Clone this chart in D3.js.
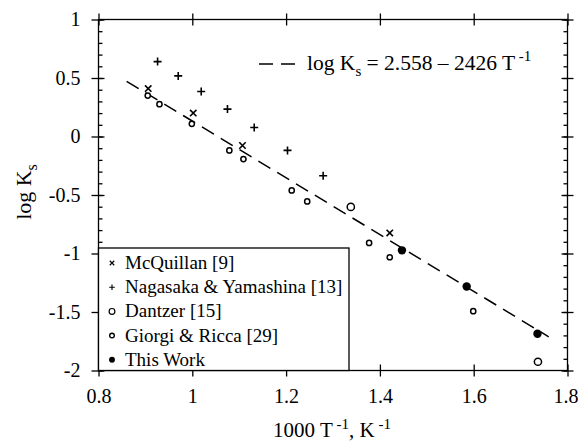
<!DOCTYPE html>
<html>
<head>
<meta charset="utf-8">
<script src="https://cdn.jsdelivr.net/npm/d3@7/dist/d3.min.js"></script>
<style>
  html, body { margin: 0; padding: 0; background: #fff; }
  svg { display: block; }
</style>
</head>
<body>
<svg id="chart" width="578" height="444"></svg>
<script>
// Hydrogen solubility constants, log Ks against 1000/T
const mcquillanX = [0.906, 1.002, 1.107, 1.421];
const mcquillanY = [0.41, 0.20, -0.077, -0.824];
const nagasakaX = [0.926, 0.970, 1.019, 1.075, 1.132, 1.203, 1.279];
const nagasakaY = [0.64, 0.518, 0.384, 0.234, 0.077, -0.119, -0.335];
const dantzerX = [1.338, 1.737];
const dantzerY = [-0.602, -1.925];
const giorgiX = [0.905, 0.930, 0.999, 1.079, 1.109, 1.212, 1.245, 1.377, 1.421, 1.599];
const giorgiY = [0.35, 0.276, 0.108, -0.119, -0.193, -0.461, -0.555, -0.91, -1.032, -1.493];
const thisWorkX = [1.447, 1.585, 1.736];
const thisWorkY = [-0.973, -1.282, -1.686];

// Fitted line: log Ks = 2.558 - 2426 / T  (x is 1000/T)
const fitIntercept = 2.558;
const fitSlope = -2.426;
const fitRange = [0.86, 1.76];

const xTicks = [0.8, 1.0, 1.2, 1.4, 1.6, 1.8];
const xTickLabels = ["0.8", "1", "1.2", "1.4", "1.6", "1.8"];
const yTicks = [1, 0.5, 0, -0.5, -1, -1.5, -2];
const yTickLabels = ["1", "0.5", "0", "-0.5", "-1", "-1.5", "-2"];
const legendNames = ["McQuillan [9]", "Nagasaka & Yamashina [13]", "Dantzer [15]", "Giorgi & Ricca [29]", "This Work"];

const FONT = '"Liberation Serif"';
const svg = d3.select("#chart");
const plotL = 98.5, plotR = 567.5, plotT = 19.5, plotB = 370.5;
const x = d3.scaleLinear().domain([0.8, 1.8]).range([plotL, plotR]);
const y = d3.scaleLinear().domain([-2, 1]).range([plotB, plotT]);
const yMinor = d3.range(-20, 11).map(d => d / 10);

// Frame
svg.append("rect").attr("x", plotL).attr("y", plotT)
  .attr("width", plotR - plotL).attr("height", plotB - plotT)
  .attr("fill", "none").attr("stroke", "#000").attr("stroke-width", 1.3);

// Bottom axis
const gB = svg.append("g").attr("transform", `translate(0,${plotB})`)
  .call(d3.axisBottom(x).tickValues(xTicks).tickFormat((d, i) => xTickLabels[i]).tickSize(6).tickPadding(12));
gB.selectAll(".tick line").attr("y1", -6);
gB.selectAll(".tick text").filter(d => d === 1.8).attr("dx", -2);
// Top axis
const gT = svg.append("g").attr("transform", `translate(0,${plotT})`)
  .call(d3.axisTop(x).tickValues(xTicks).tickSize(6).tickFormat(""));
gT.selectAll(".tick line").attr("y1", 6);
// Left axis with minor ticks
const gL = svg.append("g").attr("transform", `translate(${plotL},0)`)
  .call(d3.axisLeft(y).tickValues(yTicks).tickFormat((d, i) => yTickLabels[i]).tickSize(7).tickPadding(11));
gL.selectAll(".tick line").attr("x1", 6);
svg.append("g").attr("transform", `translate(${plotL},0)`)
  .call(d3.axisRight(y).tickValues(yMinor).tickSize(4).tickFormat(""));
// Right axis with minor ticks
const gR = svg.append("g").attr("transform", `translate(${plotR},0)`)
  .call(d3.axisRight(y).tickValues(yTicks).tickSize(6).tickFormat(""));
gR.selectAll(".tick line").attr("x1", -6);
svg.append("g").attr("transform", `translate(${plotR},0)`)
  .call(d3.axisLeft(y).tickValues(yMinor).tickSize(4).tickFormat(""));

svg.selectAll(".domain").remove();
svg.selectAll(".tick line").attr("stroke", "#000").attr("stroke-width", 1.3);
svg.selectAll(".tick text").style("font-size", "20px").attr("fill", "#000");

// Axis titles
const xt = svg.append("text").attr("x", 332).attr("y", 437).attr("text-anchor", "middle")
  .style("font-size", "21px");
xt.append("tspan").text("1000 T");
xt.append("tspan").attr("dy", -8).style("font-size", "15px").text(" -1");
xt.append("tspan").attr("dy", 8).text(", K");
xt.append("tspan").attr("dy", -8).style("font-size", "15px").text(" -1");

const yt = svg.append("text").attr("transform", "translate(31,192) rotate(-90)")
  .attr("text-anchor", "middle").style("font-size", "22px");
yt.append("tspan").text("log K");
yt.append("tspan").attr("dy", 6).style("font-size", "16px").text("s");

// Fitted dashed line
const fitLine = d3.line().x(d => x(d)).y(d => y(fitIntercept + fitSlope * d));
svg.append("path").datum(fitRange).attr("d", fitLine)
  .attr("fill", "none").attr("stroke", "#000").attr("stroke-width", 1.5)
  .attr("stroke-dasharray", "14,8");

// Equation label
svg.append("line").attr("x1", 259).attr("x2", 300).attr("y1", 64).attr("y2", 64)
  .attr("stroke", "#000").attr("stroke-width", 1.5).attr("stroke-dasharray", "14,8");
const eq = svg.append("text").attr("x", 307).attr("y", 70).style("font-size", "21.5px");
eq.append("tspan").text("log K");
eq.append("tspan").attr("dy", 6).style("font-size", "15px").text("s");
eq.append("tspan").attr("dy", -6).text(" = 2.558 \u2013 2426 T");
eq.append("tspan").attr("dy", -9).style("font-size", "15px").text(" -1");

// Marker drawers
const markers = {
  cross: (g, cx, cy) => {
    const s = 3.2;
    g.append("path").attr("d", `M${cx - s},${cy - s}L${cx + s},${cy + s}M${cx - s},${cy + s}L${cx + s},${cy - s}`)
      .attr("stroke", "#000").attr("stroke-width", 1.6).attr("fill", "none");
  },
  plus: (g, cx, cy) => {
    const s = 4;
    g.append("path").attr("d", `M${cx - s},${cy}L${cx + s},${cy}M${cx},${cy - s}L${cx},${cy + s}`)
      .attr("stroke", "#000").attr("stroke-width", 1.6).attr("fill", "none");
  },
  circle: (g, cx, cy) => {
    g.append("circle").attr("cx", cx).attr("cy", cy).attr("r", 3.6)
      .attr("fill", "#fff").attr("stroke", "#000").attr("stroke-width", 1.5);
  },
  small: (g, cx, cy) => {
    g.append("circle").attr("cx", cx).attr("cy", cy).attr("r", 2.6)
      .attr("fill", "#fff").attr("stroke", "#000").attr("stroke-width", 1.5);
  },
  filled: (g, cx, cy) => {
    g.append("circle").attr("cx", cx).attr("cy", cy).attr("r", 4.2).attr("fill", "#000");
  }
};

const series = [
  { xs: mcquillanX, ys: mcquillanY, m: "cross" },
  { xs: nagasakaX, ys: nagasakaY, m: "plus" },
  { xs: dantzerX, ys: dantzerY, m: "circle" },
  { xs: giorgiX, ys: giorgiY, m: "small" },
  { xs: thisWorkX, ys: thisWorkY, m: "filled" }
];

const pts = svg.append("g");
series.forEach(s => {
  s.xs.forEach((v, i) => markers[s.m](pts, x(v), y(s.ys[i])));
});

// Legend
const lg = svg.append("g");
lg.append("rect").attr("x", plotL).attr("y", 248).attr("width", 349 - plotL).attr("height", plotB - 248)
  .attr("fill", "#fff").attr("stroke", "#000").attr("stroke-width", 1.3);
const legendSym = ["cross", "plus", "circle", "small", "filled"];
const legendScale = { cross: 0.7, plus: 0.7, circle: 0.8, small: 0.9, filled: 0.7 };
legendNames.forEach((name, i) => {
  const cy = 263 + i * 24.2;
  const g = lg.append("g").attr("transform", `translate(112,${cy}) scale(${legendScale[legendSym[i]]})`);
  markers[legendSym[i]](g, 0, 0);
  lg.append("text").attr("x", 125).attr("y", cy + 6).style("font-size", "19px").text(name);
});

// Serif face for every label
svg.selectAll("g").attr("font-family", null);
svg.selectAll("text").style("font-family", FONT).attr("fill", "#000");
</script>
</body>
</html>
